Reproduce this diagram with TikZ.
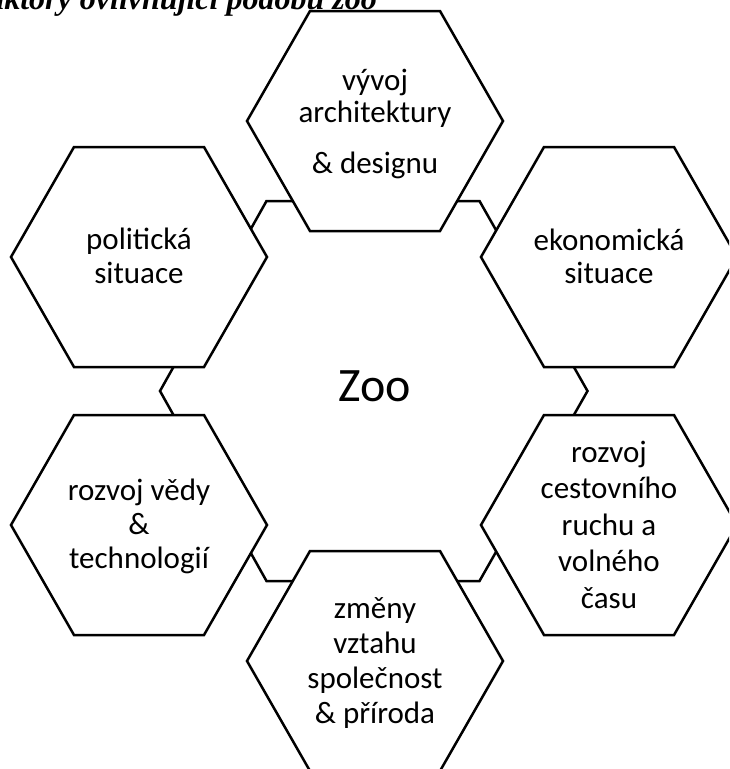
\documentclass[tikz,border=0pt]{standalone}
\usepackage{fontspec}
\setmainfont{Carlito}
\newfontfamily\titlefont{Liberation Serif}
\newcommand{\hexlines}[1]{\vtop{\halign{\hfil##\hfil\cr#1\crcr}}}
\newcommand{\outerhex}[1]{\draw[hexline] (#1) ++(-128,0) -- ++(63,-110) -- ++(130,0) -- ++(63,110) -- ++(-63,110) -- ++(-130,0) -- cycle;}
\begin{document}
\begin{tikzpicture}[x=1pt,y=-1pt,line join=miter,
  hexline/.style={draw=black,line width=2.5pt,fill=white},
  hextext/.style={anchor=base,inner sep=0pt,text=black}]
\useasboundingbox (0,0) rectangle (729,769);
\clip (0,0) rectangle (729,769);
\fill[white] (0,0) rectangle (729,769);
% centres
\coordinate (czoo) at (374.5,391);
\coordinate (ctop) at (375,121);
\coordinate (cul) at (139,257);
\coordinate (cur) at (609,257);
\coordinate (cll) at (139,525);
\coordinate (clr) at (609,525);
\coordinate (cbot) at (375,661);
% central hexagon
\draw[hexline] (czoo) ++(-214.5,0) -- ++(106.5,-190) -- ++(213,0) -- ++(108,190) -- ++(-108,190) -- ++(-213,0) -- cycle;
% outer hexagons
\outerhex{ctop}
\outerhex{cul}
\outerhex{cur}
\outerhex{cll}
\outerhex{clr}
\outerhex{cbot}
% texts
\node[anchor=base,inner sep=0pt,font=\fontsize{48}{58}\selectfont] (zootext) at (375,401) {Zoo};
\node[hextext,font=\fontsize{31}{32}\selectfont] (ttop) at (375,90) {\hexlines{vývoj\cr architektury\cr\noalign{\vskip19pt}\&~designu}};
\node[hextext,font=\fontsize{31}{34}\selectfont] (tul) at (139,249) {\hexlines{politická\cr situace}};
\node[hextext,font=\fontsize{31}{33}\selectfont] (tur) at (609,250) {\hexlines{ekonomická\cr situace}};
\node[hextext,font=\fontsize{31}{34}\selectfont] (tll) at (139,500) {\hexlines{rozvoj vědy\cr \&\cr technologií}};
\node[hextext,font=\fontsize{31}{36.5}\selectfont] (tlr) at (609,462) {\hexlines{rozvoj\cr cestovního\cr ruchu a\cr volného\cr času}};
\node[hextext,font=\fontsize{31}{35}\selectfont] (tbot) at (375,618) {\hexlines{změny\cr vztahu\cr společnost\cr \&~příroda}};
\node[anchor=base east,inner sep=0pt,font=\titlefont\bfseries\itshape\fontsize{32}{38}\selectfont] (title) at (377,9) {Faktory ovlivňující podobu zoo};
\end{tikzpicture}
\end{document}
